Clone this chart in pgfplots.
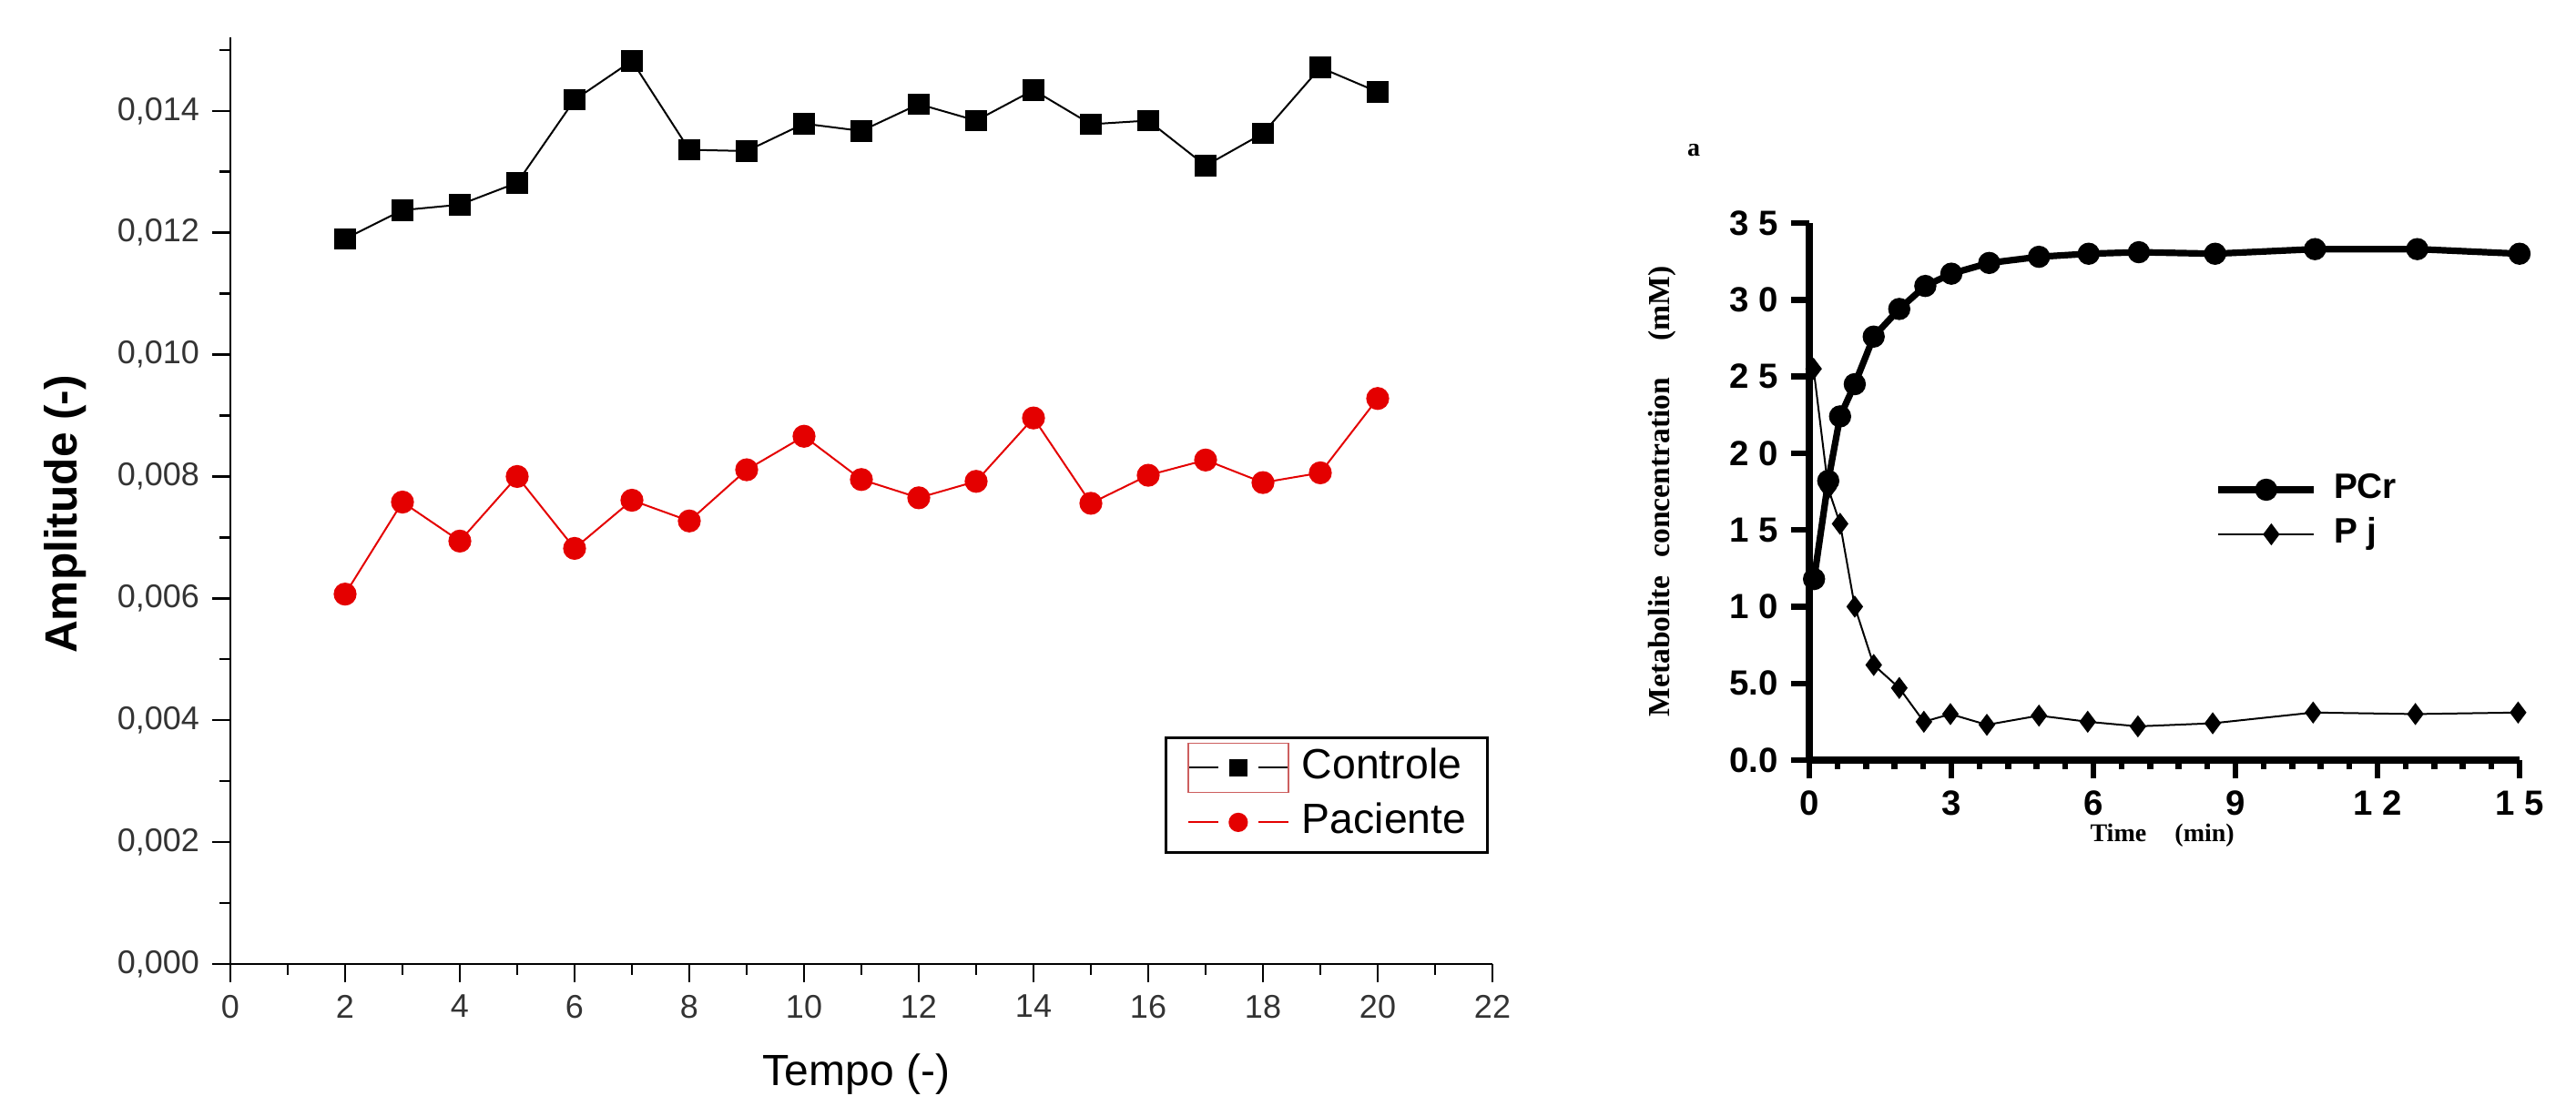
\documentclass[border=0pt]{standalone}
\usepackage{fontspec}
\setmainfont{Liberation Sans}
\newfontfamily\timesf{Liberation Serif}
\usepackage{pgfplots}
\usepackage{pgfplotstable}
\pgfplotsset{compat=1.18}

\definecolor{pacred}{RGB}{228,0,0}
\definecolor{selred}{RGB}{205,95,95}

% left panel: amplitude over time
\pgfplotstableread{
x y
2 0.01190
3 0.01237
4 0.01246
5 0.01282
6 0.01418
7 0.01482
8 0.01336
9 0.01334
10 0.01379
11 0.01367
12 0.01411
13 0.01384
14 0.01434
15 0.01378
16 0.01384
17 0.01310
18 0.01363
19 0.01471
20 0.01431
}\controle

\pgfplotstableread{
x y
2 0.00607
3 0.00758
4 0.00694
5 0.00800
6 0.00682
7 0.00761
8 0.00727
9 0.00811
10 0.00866
11 0.00795
12 0.00765
13 0.00792
14 0.00896
15 0.00756
16 0.00802
17 0.00827
18 0.00790
19 0.00806
20 0.00928
}\paciente

% right panel: metabolites
\pgfplotstableread{
t c
0.10 11.8
0.40 18.2
0.65 22.4
0.96 24.5
1.36 27.6
1.90 29.4
2.45 30.9
3.00 31.7
3.80 32.4
4.85 32.8
5.90 33.0
6.96 33.1
8.57 33.0
10.68 33.3
12.84 33.3
15.00 33.0
}\pcr

\pgfplotstableread{
t c
0.09 25.5
0.40 17.7
0.65 15.4
0.96 10.0
1.36 6.2
1.90 4.7
2.42 2.5
2.98 3.0
3.75 2.3
4.85 2.9
5.88 2.5
6.94 2.2
8.52 2.4
10.64 3.1
12.80 3.0
14.97 3.1
}\pj

\begin{document}
\begin{tikzpicture}
\useasboundingbox (0,0) rectangle (707.25pt,300.75pt);

\begin{axis}[
    at={(63.25pt,36pt)}, anchor=south west,
    scale only axis, width=346.5pt, height=254.4pt,
    xmin=0, xmax=22, ymin=0, ymax=0.0152,
    axis x line*=bottom, axis y line*=left,
    axis line style={line width=0.6pt, -},
    xtick={0,2,...,22}, minor xtick={1,3,...,21},
    ytick={0,0.002,0.004,0.006,0.008,0.010,0.012,0.014},
    minor ytick={0.001,0.003,0.005,0.007,0.009,0.011,0.013,0.015},
    tick align=outside, major tick length=5pt, minor tick length=3pt,
    tick style={line width=0.6pt, black},
    scaled y ticks=false,
    yticklabel style={/pgf/number format/.cd, fixed, fixed zerofill, precision=3, use comma},
    /pgf/number format/assume math mode=true,
    ticklabel style={font=\fontsize{9}{10}\selectfont, text=black!80},
    xlabel={Tempo (-)}, ylabel={Amplitude (-)},
    xlabel style={font=\fontsize{12}{14}\selectfont, at={(axis description cs:0.496,-0.119)}, anchor=center},
    ylabel style={font=\bfseries\fontsize{12.4}{14}\selectfont, at={(axis description cs:-0.1306,0.4855)}, anchor=center},
    legend style={at={(axis description cs:0.997,0.2457)}, anchor=north east,
        draw=black, line width=0.7pt, font=\fontsize{11.6}{13}\selectfont,
        inner xsep=5.75pt, inner ysep=2.75pt, row sep=4pt, column sep=3.5pt,
        nodes={inner sep=0pt, text height=8.5pt, text depth=2.5pt}},
    legend cell align=left,
]
\addplot[black, line width=0.5pt, mark=square*, mark size=2.7pt,
    legend image code/.code={
        \draw (0pt,0pt) -- (8.25pt,0pt);
        \draw (19.25pt,0pt) -- (27.5pt,0pt);
        \draw[mark size=2.2pt] plot coordinates {(13.75pt,0pt)};
        \draw[overlay, selred, line width=0.4pt] (0pt,-6.75pt) rectangle (27.5pt,6.75pt);
    }] table[x=x, y=y] {\controle};
\addlegendentry{Controle}
\addplot[pacred, line width=0.5pt, mark=*, mark size=2.9pt,
    legend image code/.code={
        \draw (0pt,0pt) -- (8.25pt,0pt);
        \draw (19.25pt,0pt) -- (27.5pt,0pt);
        \draw[mark size=2.4pt] plot coordinates {(13.75pt,0pt)};
    }] table[x=x, y=y] {\paciente};
\addlegendentry{Paciente}
\end{axis}

\node[font=\timesf\bfseries\fontsize{7}{8}\selectfont] at (465pt,259.5pt) {a};

\begin{axis}[
    at={(496.75pt,92pt)}, anchor=south west,
    scale only axis, width=195pt, height=147.5pt,
    xmin=0, xmax=15, ymin=0, ymax=35,
    axis x line*=bottom, axis y line*=left,
    axis line style={line width=2pt, -},
    xtick={0,3,...,15}, xticklabels={0,3,6,9,1 2,1 5},
    ytick={0,5,...,35}, yticklabels={0.0,5.0,1 0,1 5,2 0,2 5,3 0,3 5},
    minor x tick num=4,
    tick align=outside, major tick length=5pt, minor tick length=2.5pt,
    tick style={line width=1.6pt, black},
    ticklabel style={font=\bfseries\fontsize{9.6}{10}\selectfont},
    xlabel={Time\hspace{7.8pt}(min)},
    ylabel={Metabolite\hspace{5pt}concentration\hspace{10pt}(mM)},
    xlabel style={font=\timesf\bfseries\fontsize{7}{8}\selectfont, at={(axis description cs:0.497,-0.14)}, anchor=center},
    ylabel style={font=\timesf\bfseries\fontsize{8.4}{9}\selectfont, at={(axis description cs:-0.2077,0.5)}, anchor=center},
    legend style={at={(axis description cs:0.5705,0.4619)}, anchor=west,
        draw=none, fill=none, font=\bfseries\fontsize{9.7}{11}\selectfont,
        inner sep=0pt, row sep=3.25pt, column sep=4.5pt,
        nodes={inner sep=0pt, text height=7pt, text depth=2pt}},
    legend cell align=left,
]
\addplot[black, line width=1.8pt, mark=*, mark size=2.9pt, mark options={line width=0.3pt},
    legend image code/.code={
        \draw[mark repeat=2, mark phase=2] plot coordinates {(0pt,0pt) (13.1pt,0pt) (26.25pt,0pt)};
    }] table[x=t, y=c] {\pcr};
\addlegendentry{PCr}
\addplot[black, line width=0.5pt, mark=diamond*, mark size=2.8pt, mark options={line width=0.3pt},
    legend image code/.code={
        \draw[mark repeat=2, mark phase=2] plot coordinates {(0pt,0pt) (14.5pt,0pt) (26.25pt,0pt)};
    }] table[x=t, y=c] {\pj};
\addlegendentry{P j}
\end{axis}
\end{tikzpicture}
\end{document}
